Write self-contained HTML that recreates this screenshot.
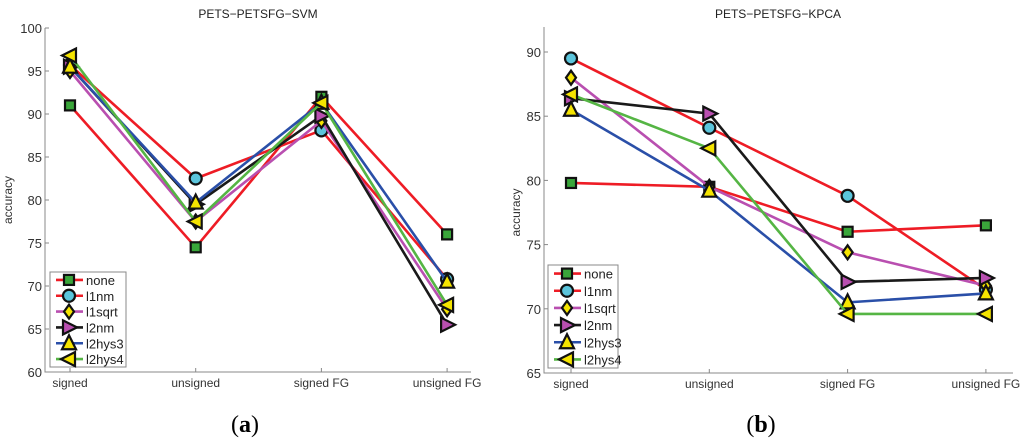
<!DOCTYPE html>
<html><head><meta charset="utf-8"><style>
body{margin:0;background:#fff;width:1024px;height:447px;overflow:hidden}
svg{display:block;font-family:"Liberation Sans",Arial,sans-serif}
</style></head><body>
<svg id="s" width="1024" height="447" xmlns="http://www.w3.org/2000/svg"></svg>
<script>
const categories=["signed","unsigned","signed FG","unsigned FG"];
const seriesNames=["none","l1nm","l1sqrt","l2nm","l2hys3","l2hys4"];
const svmNone=[91,74.5,92,76];
const svmL1nm=[95.7,82.5,88.1,70.8];
const svmL1sqrt=[95,77.5,89.2,67.3];
const svmL2nm=[95.5,79.5,89.8,65.5];
const svmL2hys3=[95.5,79.7,91.3,70.5];
const svmL2hys4=[96.8,77.5,91.3,67.8];
const kpcaNone=[79.8,79.5,76,76.5];
const kpcaL1nm=[89.5,84.1,78.8,71.5];
const kpcaL1sqrt=[88,79.5,74.4,71.8];
const kpcaL2nm=[86.4,85.2,72.1,72.4];
const kpcaL2hys3=[85.5,79.2,70.5,71.2];
const kpcaL2hys4=[86.7,82.5,69.6,69.6];
const svmTicks=[60,65,70,75,80,85,90,95,100];
const kpcaTicks=[65,70,75,80,85,90];

const NS="http://www.w3.org/2000/svg";
const S=document.getElementById('s');
function mk(t,a,p){const e=document.createElementNS(NS,t);for(const k in a)e.setAttribute(k,a[k]);(p||S).appendChild(e);return e;}
const colors=["#ee1c25","#ee1c25","#b94fb0","#1a1a1a","#2a4fa8","#55b544"];
const mfill=["#3aa63a","#5bc5dc","#f5e400","#b94fb0","#f5e400","#f5e400"];
const mtype=["sq","ci","di","tr","tu","tl"];
function marker(g,type,x,y,fill){
  let e;
  if(type=="sq")e=mk('rect',{x:x-5,y:y-5,width:10,height:10},g);
  else if(type=="ci")e=mk('circle',{cx:x,cy:y,r:6},g);
  else if(type=="di")e=mk('polygon',{points:`${x},${y-7} ${x+5},${y} ${x},${y+7} ${x-5},${y}`},g);
  else if(type=="tr")e=mk('polygon',{points:`${x-6},${y-7} ${x+8},${y} ${x-6},${y+7}`},g);
  else if(type=="tu")e=mk('polygon',{points:`${x},${y-8} ${x+7},${y+6} ${x-7},${y+6}`},g);
  else e=mk('polygon',{points:`${x+6},${y-7} ${x-8},${y} ${x+6},${y+7}`},g);
  e.setAttribute('fill',fill);e.setAttribute('stroke','#111');e.setAttribute('stroke-width','2.2');
  return e;
}
function chart(cfg){
  const g=mk('g',{});
  
  
  const {x0,x1,yTop,yBot,vmin,vmax,cx}=cfg;
  const ys=v=>yBot-(v-vmin)/(vmax-vmin)*(yBot-yTop);
  const xs=i=>cx[0]+i*(cx[1]-cx[0]);
  const ax=mk('path',{d:`M${x0},${cfg.axTop} L${x0},${yBot} L${x1},${yBot}`,fill:'none',stroke:'#888','stroke-width':1},g);
  
  cfg.ticks.forEach(t=>{
    const y=ys(t);
    mk('line',{x1:x0,x2:x0+4,y1:y,y2:y,stroke:'#888'},g);
    const tx=mk('text',{x:x0-3,y:y+5,'text-anchor':'end','font-size':13,fill:'#333'},g);
    tx.textContent=t;
    
  });
  categories.forEach((c,i)=>{
    const x=xs(i);
    mk('line',{x1:x,x2:x,y1:yBot,y2:yBot-4,stroke:'#888'},g);
    const tx=mk('text',{x:x,y:yBot+15,'text-anchor':'middle','font-size':12,fill:'#333'},g);
    tx.textContent=c;
    
  });
  const ti=mk('text',{x:cfg.titleX,y:18,'text-anchor':'middle','font-size':12,fill:'#222'},g);
  ti.textContent=cfg.title;
  const yl=mk('text',{x:0,y:0,'text-anchor':'middle','font-size':12,fill:'#333',transform:`translate(${cfg.ylX},${(yTop+yBot)/2}) rotate(-90)`},g);
  yl.textContent='accuracy';
  cfg.data.forEach((arr,k)=>{
    const sg=mk('g',{},g);
    
    
    mk('polyline',{points:arr.map((v,i)=>xs(i)+','+ys(v)).join(' '),fill:'none',stroke:colors[k],'stroke-width':2.6,'stroke-linejoin':'round'},sg);
    arr.forEach((v,i)=>{const m=marker(sg,mtype[k],xs(i),ys(v),mfill[k]);
      });
  });
  const L=cfg.leg;
  const lg=mk('g',{},g);
  
  mk('rect',{x:L.x,y:L.y,width:L.w,height:L.h,fill:'#fff',stroke:'#888'},lg);
  const step=L.h/6;
  seriesNames.forEach((n,k)=>{
    const y=L.y+step*(k+0.5);
    const eg=mk('g',{},lg);
    
    mk('line',{x1:L.x+6,x2:L.x+33,y1:y,y2:y,stroke:colors[k],'stroke-width':2.6},eg);
    marker(eg,mtype[k],L.x+19,y,mfill[k]);
    const t=mk('text',{x:L.x+36,y:y+5,'font-size':13,fill:'#222'},eg);t.textContent=n;
  });
  const lab=mk('text',{x:cfg.labX,y:432,'text-anchor':'middle','font-size':24,'font-family':'"Liberation Serif",serif',fill:'#000'},g);
  lab.innerHTML='(<tspan font-weight="bold">'+cfg.lab+'</tspan>)';
  
}
chart({name:'svm-chart',title:'PETS−PETSFG−SVM',titleX:258,x0:45,x1:471,axTop:28,yTop:28,yBot:372,vmin:60,vmax:100,cx:[70,195.7],ticks:svmTicks,ylX:12,
 data:[svmNone,svmL1nm,svmL1sqrt,svmL2nm,svmL2hys3,svmL2hys4],leg:{x:50,y:272,w:76,h:95},labX:245,lab:'a'});
chart({name:'kpca-chart',title:'PETS−PETSFG−KPCA',titleX:778,x0:544,x1:1013,axTop:27,yTop:52,yBot:373,vmin:65,vmax:90,cx:[571,709.3],ticks:kpcaTicks,ylX:520,
 data:[kpcaNone,kpcaL1nm,kpcaL1sqrt,kpcaL2nm,kpcaL2hys3,kpcaL2hys4],leg:{x:548,y:265,w:70,h:103},labX:761,lab:'b'});
</script>
</body></html>
